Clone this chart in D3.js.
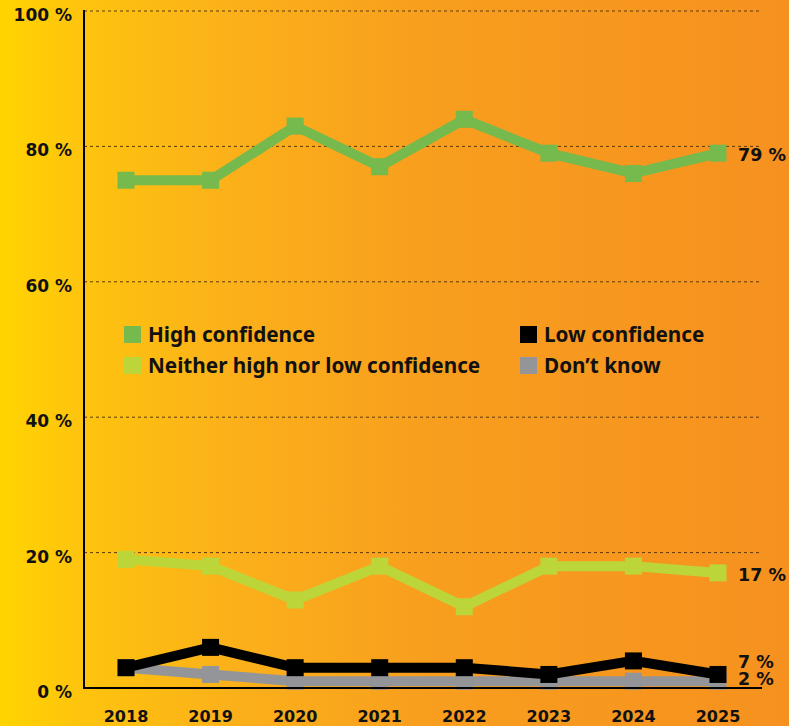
<!DOCTYPE html>
<html><head><meta charset="utf-8">
<script src="https://cdn.jsdelivr.net/npm/d3@7"></script>
<style>html,body{margin:0;padding:0;}svg{display:block;}</style>
</head><body>
<script>
const years = ["2018","2019","2020","2021","2022","2023","2024","2025"];
const highConfidence = [75,75,83,77,84,79,76,79];
const neitherConfidence = [19,18,13,18,12,18,18,17];
const lowConfidence = [3,6,3,3,3,2,4,2];
const dontKnow = [3,2,1,1,1,1,1,1];
const yTicks = [0,20,40,60,80,100];
const seriesNames = ["High confidence","Neither high nor low confidence","Low confidence","Don’t know"];
const endLabels = ["79 %","17 %","7 %","2 %"];

const W=789,H=726;
const svg=d3.select("body").append("svg").attr("width",W).attr("height",H);
const defs=svg.append("defs");
const g=defs.append("linearGradient").attr("id","bg").attr("x1","0").attr("x2","1").attr("y1","0").attr("y2","0");
[[0,"#ffd400"],[0.1,"#fec40e"],[0.3,"#fbb01a"],[0.55,"#f89e1e"],[1,"#f6911f"]].forEach(s=>g.append("stop").attr("offset",s[0]).attr("stop-color",s[1]));
svg.append("rect").attr("width",W).attr("height",H).attr("fill","url(#bg)");

const x=d3.scalePoint().domain(years).range([126,718]);
const y=d3.scaleLinear().domain([0,100]).range([688,11]);
const font="'Noto Sans', 'Open Sans', sans-serif";
const tfont="'DejaVu Sans', sans-serif";

// grid
svg.append("g").selectAll("line").data(yTicks.filter(d=>d>0)).join("line")
  .attr("x1",84).attr("x2",762).attr("y1",d=>y(d)).attr("y2",d=>y(d))
  .attr("stroke","#5a3a10").attr("stroke-width",1).attr("stroke-dasharray","3,3");

// y tick labels
svg.append("g").selectAll("text").data(yTicks).join("text")
  .attr("x",72).attr("y",d=>y(d)+10).attr("text-anchor","end")
  .attr("font-family",tfont).attr("font-weight",700).attr("font-size",17).attr("fill","#111")
  .text(d=>d+" %");

// x labels
svg.append("g").selectAll("text").data(years).join("text")
  .attr("x",d=>x(d)).attr("y",722).attr("text-anchor","middle")
  .attr("font-family",tfont).attr("font-weight",700).attr("font-size",16).attr("fill","#111")
  .text(d=>d);

const series=[
  {name:seriesNames[3],vals:dontKnow,color:"#939598"},
  {name:seriesNames[2],vals:lowConfidence,color:"#000000"},
  {name:seriesNames[1],vals:neitherConfidence,color:"#bcd63a"},
  {name:seriesNames[0],vals:highConfidence,color:"#76b94c"}
];
const line=d3.line().x((d,i)=>x(years[i])).y(d=>y(d));
series.forEach(s=>{
  const gg=svg.append("g");
  gg.append("path").attr("d",line(s.vals)).attr("fill","none").attr("stroke",s.color).attr("stroke-width",10).attr("stroke-linejoin","miter");
  gg.selectAll("rect").data(s.vals).join("rect")
    .attr("x",(d,i)=>x(years[i])-8.5).attr("y",d=>y(d)-8.5).attr("width",17).attr("height",17).attr("fill",s.color);
});

// axes
svg.append("line").attr("x1",84).attr("x2",762).attr("y1",688).attr("y2",688).attr("stroke","#000").attr("stroke-width",2);
svg.append("line").attr("x1",84).attr("x2",84).attr("y1",10).attr("y2",689).attr("stroke","#000").attr("stroke-width",2);

// end labels
const endY=[y(highConfidence[7])+8, y(neitherConfidence[7])+8, 668, 685];
endLabels.forEach((t,i)=>svg.append("text").attr("x",738).attr("y",endY[i])
  .attr("font-family",tfont).attr("font-weight",700).attr("font-size",17.5).attr("fill","#111").text(t));

// legend
const leg=[
  {name:seriesNames[0],color:"#76b94c",x:124,y:326},
  {name:seriesNames[1],color:"#bcd63a",x:124,y:357},
  {name:seriesNames[2],color:"#000000",x:520,y:326},
  {name:seriesNames[3],color:"#939598",x:520,y:357}
];
leg.forEach(l=>{
  svg.append("rect").attr("x",l.x).attr("y",l.y).attr("width",17).attr("height",17).attr("fill",l.color);
  svg.append("text").attr("x",l.x+24).attr("y",l.y+16).attr("font-family",font).attr("font-weight",700)
    .attr("font-size",20.7).attr("fill","#111").text(l.name);
});
</script>
</body></html>
